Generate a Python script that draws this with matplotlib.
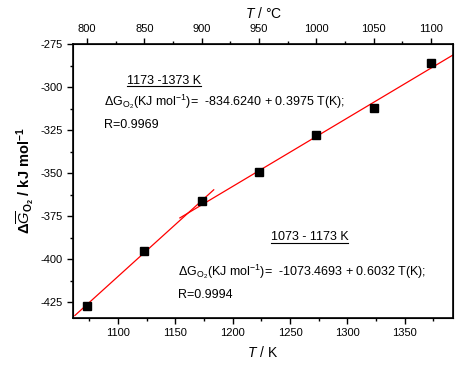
import numpy as np
import matplotlib
matplotlib.use('Agg')
import matplotlib.pyplot as plt
from matplotlib.ticker import MultipleLocator
from matplotlib.lines import Line2D

plt.rcParams['font.family'] = ['Liberation Sans', 'DejaVu Sans']
plt.rcParams['mathtext.fontset'] = 'custom'
plt.rcParams['mathtext.rm'] = 'Liberation Sans'
plt.rcParams['mathtext.it'] = 'Liberation Sans:italic'
plt.rcParams['mathtext.bf'] = 'Liberation Sans:bold'
plt.rcParams['axes.unicode_minus'] = False

# Data
T_K = [1073, 1123, 1173, 1223, 1273, 1323, 1373]
dG = [-427, -395, -366, -349, -328, -312, -286]

# linear fits (intercept, slope, drawn range)
fit_low = (-1073.4693, 0.6032)
fit_low_range = (1062.5, 1183.5)
fit_high = (-834.6240, 0.3975)
fit_high_range = (1154, 1392)

XLIM = (1061, 1392)

fig = plt.figure(figsize=(4.66, 3.84), dpi=100)
ax = fig.add_axes([0.157, 0.172, 0.815, 0.713])

ax.plot(T_K, dG, 's', color='black', markersize=5.5, zorder=3)

for (a, b), (x0, x1) in [(fit_low, fit_low_range), (fit_high, fit_high_range)]:
    xs = np.array([x0, x1])
    ax.plot(xs, a + b * xs, color='red', linewidth=0.9, zorder=2)

ax.set_xlim(*XLIM)
ax.set_ylim(-434, -275)
ax.xaxis.set_major_locator(MultipleLocator(50))
ax.xaxis.set_minor_locator(MultipleLocator(25))
ax.yaxis.set_major_locator(MultipleLocator(25))
ax.yaxis.set_minor_locator(MultipleLocator(12.5))
ax.tick_params(which='both', direction='out', labelsize=8, width=1)
ax.tick_params(which='major', length=4)
ax.tick_params(which='minor', length=2.5)
for s in ax.spines.values():
    s.set_linewidth(1.2)

ax.set_xlabel('$\\mathit{T}$ / K', fontsize=10, labelpad=5)
ax.set_ylabel('$\\mathbf{\\Delta\\overline{\\mathit{G}}_{O_2}}$ / kJ mol$^{\\mathbf{-1}}$',
              fontsize=10.5, fontweight='bold', labelpad=3)

# top axis in degrees C
top = ax.twiny()
top.set_xlim(XLIM[0] - 273, XLIM[1] - 273)
top.xaxis.set_major_locator(MultipleLocator(50))
top.xaxis.set_minor_locator(MultipleLocator(25))
top.tick_params(which='both', direction='out', labelsize=8, width=1)
top.tick_params(which='major', length=4)
top.tick_params(which='minor', length=2.5)
top.set_xlabel('$\\mathit{T}$ / \u00b0C', fontsize=10, labelpad=4)

# annotations
fs = 9
h1 = ax.text(0.142, 0.866, '1173 -1373 K', transform=ax.transAxes, fontsize=fs, va='center')
ax.text(0.08, 0.79, '$\\Delta$G$_{\\mathregular{O_2}}$(KJ mol$^{\\mathregular{-1}}$)=  -834.6240 + 0.3975 T(K);',
        transform=ax.transAxes, fontsize=fs, va='center')
ax.text(0.08, 0.705, 'R=0.9969', transform=ax.transAxes, fontsize=fs, va='center')

h2 = ax.text(0.52, 0.294, '1073 - 1173 K', transform=ax.transAxes, fontsize=fs, va='center')
ax.text(0.275, 0.168, '$\\Delta$G$_{\\mathregular{O_2}}$(KJ mol$^{\\mathregular{-1}}$)=  -1073.4693 + 0.6032 T(K);',
        transform=ax.transAxes, fontsize=fs, va='center')
ax.text(0.275, 0.083, 'R=0.9994', transform=ax.transAxes, fontsize=fs, va='center')

# underline headers
fig.canvas.draw()
r = fig.canvas.get_renderer()
inv = fig.transFigure.inverted()
for t in (h1, h2):
    bb = t.get_window_extent(r)
    (x0, y0), (x1, _) = inv.transform([(bb.x0, bb.y0), (bb.x1, bb.y1)])
    fig.add_artist(Line2D([x0, x1], [y0 + 0.002, y0 + 0.002], color='black', linewidth=0.8,
                          transform=fig.transFigure))

fig.savefig('out.png', dpi=100)
